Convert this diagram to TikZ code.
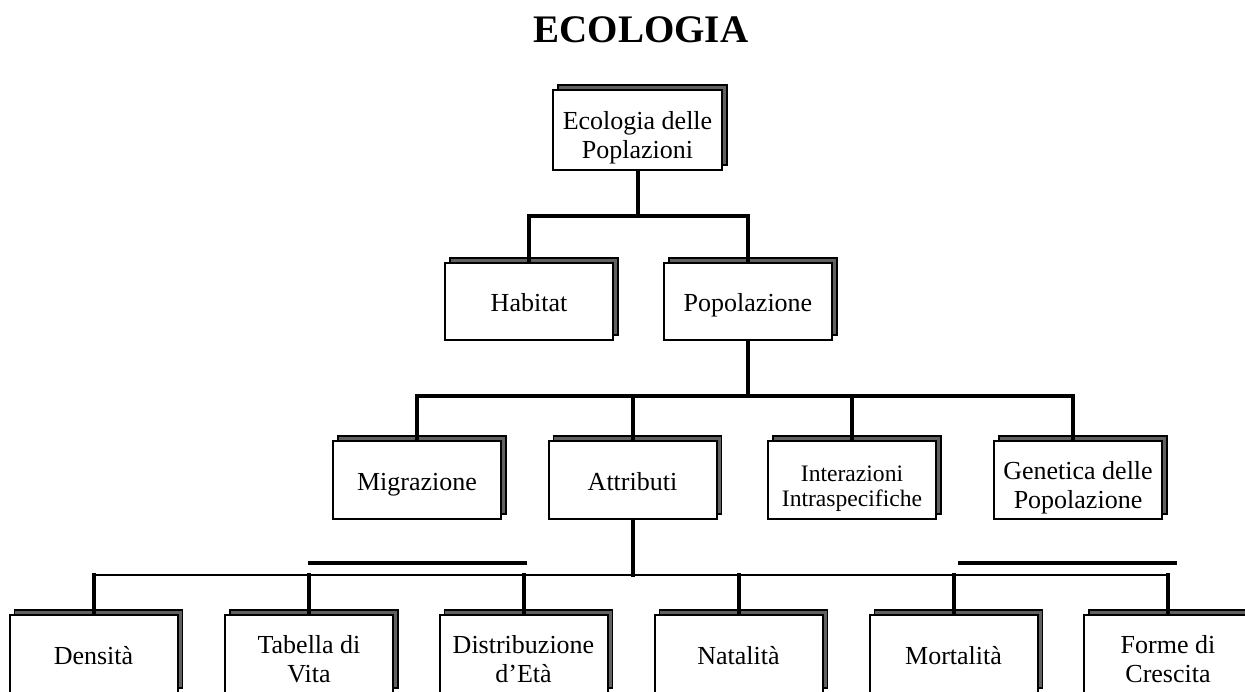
\documentclass[tikz,border=0pt]{standalone}
\usepackage{fontspec}
\setmainfont{Liberation Serif}
\usepackage{tikz}
\usetikzlibrary{shadows,calc}
\newcommand\topstrut{\rule{0pt}{13pt}}
\newcommand\tallstrut{\rule{0pt}{17pt}}
\newcommand\botstrut{\rule[-3pt]{0pt}{3pt}}

\begin{document}
\begin{tikzpicture}[
  x=0.5pt, y=-0.5pt,
  box/.style={rectangle, draw=black, line width=1pt, fill=white,
    minimum width=84pt, minimum height=39pt, inner sep=2pt, align=center,
    font=\fontsize{13}{14.5}\selectfont,
    execute at begin node=\topstrut, execute at end node=\botstrut,
    general shadow={fill=black!62, draw=black, line width=0.6pt,
      shadow xshift=2.5pt, shadow yshift=2.5pt}},
  conn/.style={line width=2pt, line cap=rect},
  thinbus/.style={line width=1.1pt},
  bar/.style={line width=2pt}
]
  \useasboundingbox (0,0) rectangle (1245,691);
  \clip (0,0) rectangle (1245,691);

  % Title
  \node[font=\fontsize{19.5}{22}\selectfont\bfseries] (title) at (641,30) {ECOLOGIA};

  % Root
  \node[box, minimum width=84.5pt, minimum height=40pt] (root) at (637.5,130)
    {\tallstrut Ecologia delle\\Poplazioni};

  % Second level
  \node[box, minimum height=38.5pt] (habitat) at (529,301.5) {Habitat};
  \node[box, minimum height=38.5pt] (popolazione) at (748,301.5) {Popolazione};

  % Third level
  \node[box] (migrazione) at (417,480) {Migrazione};
  \node[box] (attributi) at (632.5,480) {Attributi};
  \node[box, font=\fontsize{11.8}{12.2}\selectfont] (interazioni) at (852,480)
    {\tallstrut Interazioni\\Intraspecifiche};
  \node[box] (genetica) at (1078,480) {\tallstrut Genetica delle\\Popolazione};

  % Attributes
  \node[box] (densita) at (93.5,654) {Densità};
  \node[box] (tabella) at (309,654) {\tallstrut Tabella di\\Vita};
  \node[box] (distribuzione) at (523.5,654) {\tallstrut Distribuzione\\d’Età};
  \node[box] (natalita) at (738.5,654) {Natalità};
  \node[box] (mortalita) at (953.5,654) {Mortalità};
  \node[box] (forme) at (1168,654) {\tallstrut Forme di\\Crescita};

  % Connectors
  \draw[conn] (root.south) -- ++(0,45) coordinate (bus1);
  \draw[conn] (habitat.north) |- (bus1) -| (popolazione.north);

  \draw[conn] (popolazione.south) -- ++(0,55) coordinate (bus2);
  \draw[conn] (migrazione.north) |- (bus2) -| ($(genetica.north)+(-5,0)$);
  \draw[conn] (attributi.north) -- (attributi.north |- bus2);
  \draw[conn] (interazioni.north) -- (interazioni.north |- bus2);

  \draw[conn] (attributi.south) -- ++(0,55) coordinate (bus3);
  \draw[thinbus] (densita.north |- bus3) -- (forme.north |- bus3);
  \foreach \n in {densita,tabella,distribuzione,natalita,mortalita,forme}
    \draw[conn] (\n.north) -- (\n.north |- bus3);

  % Loose bars over the bus
  \coordinate (barL) at (308,563);
  \coordinate (barR) at (958,563);
  \draw[bar] (barL) -- ++(219,0);
  \draw[bar] (barR) -- ++(219,0);
\end{tikzpicture}
\end{document}
